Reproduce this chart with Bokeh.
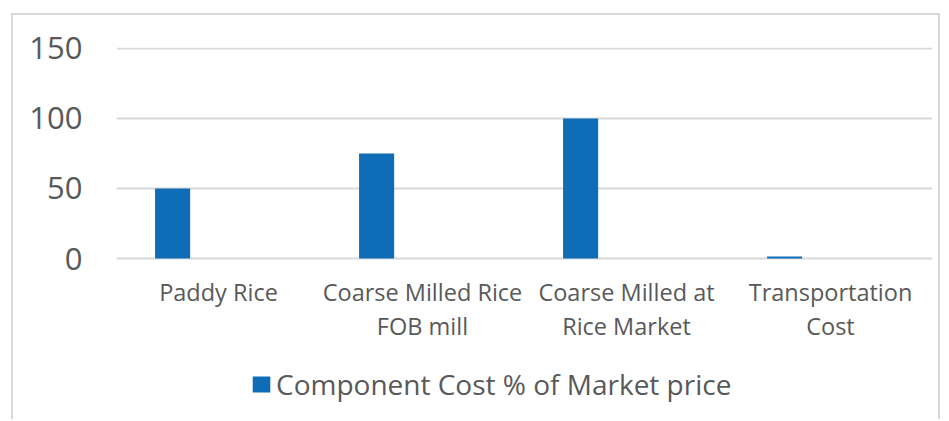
from bokeh.plotting import figure
from bokeh.models import FactorRange, Range1d, ColumnDataSource, Legend, LegendItem
from bokeh.transform import dodge
from bokeh.core.properties import value
from bokeh.embed import file_html
from bokeh.resources import INLINE

categories = ["Paddy Rice", "Coarse Milled Rice\nFOB mill", "Coarse Milled at\nRice Market", "Transportation\nCost"]
values = [50, 75, 100, 1.5]
series_name = "Component Cost % of Market price"
y_ticks = [0, 50, 100, 150]

FONT = "Open Sans"
TXT = "#595959"
BLUE = "#0E6DB6"
GRID = "#D9D9D9"

src = ColumnDataSource(dict(cat=categories, val=values))

# the lower part of the frame holds the category labels and the legend
p = figure(x_range=FactorRange(*categories, range_padding=0), y_range=Range1d(-110.7, 150.7),
           frame_width=816, frame_height=366, output_backend="svg", toolbar_location=None,
           min_border_left=103, min_border_right=6, min_border_top=32, min_border_bottom=6)
p.outline_line_color = None
p.styles = {"margin-left": "11px", "margin-top": "13px",
            "border-left": "2px solid #D9D9D9", "border-top": "2px solid #D9D9D9",
            "border-right": "2px solid #D9D9D9"}

r = p.vbar(x=dodge("cat", -0.225, range=p.x_range), top="val", width=0.172, source=src,
           fill_color=BLUE, line_color=None)

# category labels under the baseline
p.text(x="cat", y=-12.5, text="cat", source=src, text_font=value(FONT), text_font_size="23.5px",
       text_color=TXT, text_align="center", text_baseline="top", text_line_height=1.05)

p.yaxis.ticker = y_ticks
p.yaxis.axis_line_color = None
p.yaxis.major_tick_line_color = None
p.yaxis.minor_tick_line_color = None
p.yaxis.major_label_text_font = FONT
p.yaxis.major_label_text_font_size = "31px"
p.yaxis.major_label_text_color = TXT
p.yaxis.major_label_standoff = 28
p.xaxis.visible = False

p.xgrid.grid_line_color = None
p.ygrid.grid_line_color = GRID
p.ygrid.grid_line_width = 2

legend = Legend(items=[LegendItem(label=series_name, renderers=[r])], orientation="horizontal",
                location=(134, 10), label_text_font=FONT, label_text_font_size="28px",
                label_text_color=TXT, glyph_width=22, glyph_height=20, border_line_color=None,
                background_fill_alpha=0, margin=0, padding=0, label_standoff=4)
p.add_layout(legend, "center")

open("out.html", "w").write(file_html(p, INLINE))
